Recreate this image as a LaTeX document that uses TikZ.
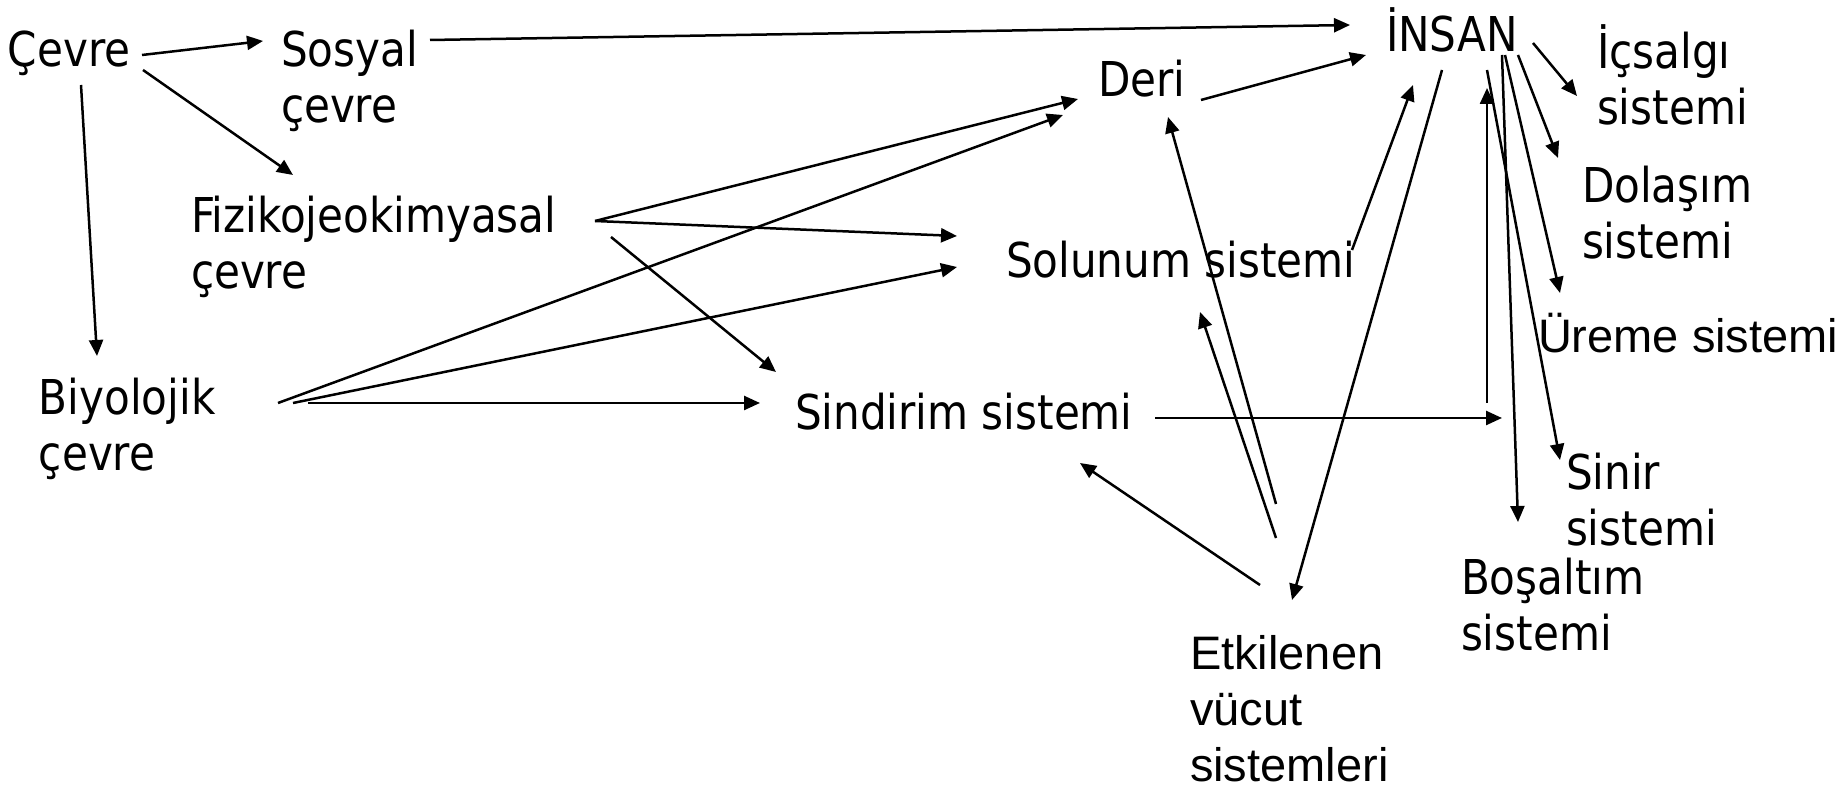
\documentclass[tikz,border=0pt]{standalone}
\usepackage{fontspec}
\newfontfamily\tah[FakeStretch=0.975]{DejaVu Sans Condensed}
\newfontfamily\ari{Liberation Sans}
\usetikzlibrary{arrows.meta}
\newcommand{\twol}[2]{\vtop{\hbox{#1}\hbox{#2}}}
\newcommand{\threel}[3]{\vtop{\hbox{#1}\hbox{#2}\hbox{#3}}}
\begin{document}
\begin{tikzpicture}[x=0.5pt,y=-0.5pt,
  lbl/.style={inner sep=0pt,outer sep=0pt,anchor=base west,font=\tah\fontsize{24}{28}\selectfont},
  lbla/.style={lbl,font=\ari\fontsize{23.5}{28}\selectfont},
  arr/.style={-{Triangle[length=8pt,width=7pt]},line width=1.25pt,black}]
\useasboundingbox (0,0) rectangle (1848,795);
% nodes
\node[lbl] (cevre) at (8,67) {Çevre};
\node[lbl] (sosyal) at (281,67) {\twol{Sosyal}{çevre}};
\node[lbl] (fiziko) at (191,233) {\twol{Fizikojeokimyasal}{çevre}};
\node[lbl] (biyo) at (39,415) {\twol{Biyolojik}{çevre}};
\node[lbl] (deri) at (1098,97) {Deri};
\node[lbl] (solunum) at (1006,278) {Solunum sistemi};
\node[lbl] (sindirim) at (795,430) {Sindirim sistemi};
\node[lbl] (insan) at (1386,52) {İNSAN};
\node[lbl] (icsalgi) at (1597,69) {\twol{İçsalgı}{sistemi}};
\node[lbl] (dolasim) at (1582,203) {\twol{Dolaşım}{sistemi}};
\node[lbla] (ureme) at (1538,353) {Üreme sistemi};
\node[lbl] (sinir) at (1566,490) {\twol{Sinir}{sistemi}};
\node[lbl] (bosaltim) at (1461,595) {\twol{Boşaltım}{sistemi}};
\node[lbla] (etk) at (1190,670) {\threel{Etkilenen}{vücut}{sistemleri}};
\coordinate (sj) at (1502,418);
\coordinate (vj) at (1487,403);
% connectors
\draw[arr] ([shift={(134,-12)}]cevre.base west) -- ([shift={(-18,-26)}]sosyal.base west);
\draw[arr] ([shift={(135,3)}]cevre.base west) -- ([shift={(102,-58)}]fiziko.base west);
\draw[arr] ([shift={(73,18)}]cevre.base west) -- ([shift={(58,-59)}]biyo.base west);
\draw[arr] ([shift={(149,-27)}]sosyal.base west) -- ([shift={(-36,-27)}]insan.base west);
\draw[arr] ([shift={(404,-12)}]fiziko.base west) -- ([shift={(-20,2)}]deri.base west);
\draw[arr] ([shift={(404,-12)}]fiziko.base west) -- ([shift={(-49,-42)}]solunum.base west);
\draw[arr] ([shift={(420,4)}]fiziko.base west) -- ([shift={(-19,-58)}]sindirim.base west);
\draw[arr] ([shift={(239,-12)}]biyo.base west) -- ([shift={(-35,18)}]deri.base west);
\draw[arr] ([shift={(254,-12)}]biyo.base west) -- ([shift={(-49,-11)}]solunum.base west);
\draw[arr] ([shift={(269,-12)}]biyo.base west) -- ([shift={(-35,-27)}]sindirim.base west);
\draw[arr] ([shift={(103,3)}]deri.base west) -- ([shift={(-20,3)}]insan.base west);
\draw[arr] ([shift={(346,-28)}]solunum.base west) -- ([shift={(27,33)}]insan.base west);
\draw[arr] ([shift={(360,-12)}]sindirim.base west) -- (sj);
\draw[arr] (vj) -- ([shift={(101,36)}]insan.base west);
\draw[arr] ([shift={(56,18)}]insan.base west) -- ([shift={(102,-70)}]etk.base west);
\draw[arr] ([shift={(147,-9)}]insan.base west) -- ([shift={(-20,27)}]icsalgi.base west);
\draw[arr] ([shift={(132,3)}]insan.base west) -- ([shift={(-24,-45)}]dolasim.base west);
\draw[arr] ([shift={(119,3)}]insan.base west) -- ([shift={(22,-60)}]ureme.base west);
\draw[arr] ([shift={(101,18)}]insan.base west) -- ([shift={(-6,-30)}]sinir.base west);
\draw[arr] ([shift={(116,3)}]insan.base west) -- ([shift={(57,-73)}]bosaltim.base west);
\draw[arr] ([shift={(70,-85)}]etk.base west) -- ([shift={(285,33)}]sindirim.base west);
\draw[arr] ([shift={(86,-166)}]etk.base west) -- ([shift={(70,20)}]deri.base west);
\draw[arr] ([shift={(86,-132)}]etk.base west) -- ([shift={(194,34)}]solunum.base west);
\end{tikzpicture}
\end{document}
